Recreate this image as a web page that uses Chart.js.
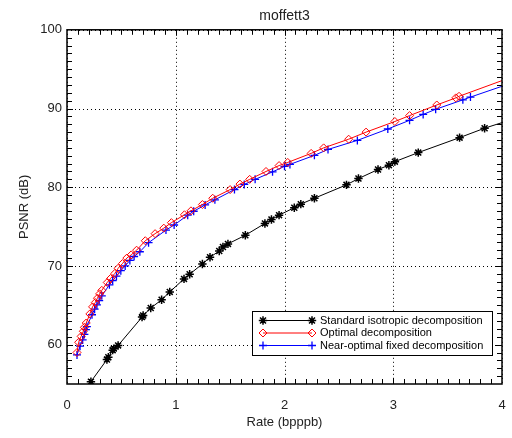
<!DOCTYPE html>
<html>
<head>
<meta charset="utf-8">
<script src="https://cdn.jsdelivr.net/npm/chart.js@4.4.1/dist/chart.umd.min.js"></script>
<style>
  html, body { margin: 0; padding: 0; background: #fff; }
  #wrap { width: 512px; height: 438px; }
</style>
</head>
<body>
<div id="wrap"><canvas id="psnrChart" width="512" height="438"></canvas></div>
<script>
const FONT = '"Liberation Sans", Arial, sans-serif';

// rate (bpppb) / PSNR (dB)
const stdRate = [0.22, 0.367, 0.38, 0.42, 0.43, 0.47, 0.69, 0.70, 0.77, 0.87, 0.945, 1.076, 1.128, 1.245, 1.315, 1.40,
    1.434, 1.48, 1.64, 1.82, 1.88, 1.95, 2.09, 2.15, 2.275, 2.57, 2.68, 2.86, 2.96, 3.015, 3.23, 3.61, 3.84, 4.1];
const stdPsnr = [55.3, 58.1, 58.4, 59.3, 59.5, 59.9, 63.5, 63.7, 64.65, 65.7, 66.7, 68.35, 68.95, 70.25, 71.1, 71.9,
    72.4, 72.8, 73.9, 75.4, 75.9, 76.45, 77.4, 77.85, 78.6, 80.3, 81.1, 82.25, 82.8, 83.25, 84.4, 86.3, 87.5, 88.65];

const optRate = [0.092, 0.107, 0.13, 0.15, 0.16, 0.177, 0.21, 0.235, 0.26, 0.28, 0.30, 0.32, 0.37, 0.40, 0.44, 0.47,
    0.51, 0.55, 0.59, 0.64, 0.72, 0.81, 0.89, 0.96, 1.08, 1.14, 1.245, 1.34, 1.50, 1.59, 1.68, 1.83, 1.95, 2.03,
    2.245, 2.36, 2.59, 2.75, 3.015, 3.15, 3.40, 3.575, 3.605, 4.1];
const optPsnr = [59.0, 60.3, 61.05, 61.7, 62.2, 62.75, 63.9, 64.8, 65.35, 65.9, 66.45, 66.9, 67.9, 68.4, 69.05, 69.7,
    70.3, 71.0, 71.4, 72.0, 73.2, 74.1, 74.8, 75.5, 76.5, 77.0, 77.8, 78.6, 79.7, 80.4, 81.0, 82.0, 82.75, 83.15,
    84.3, 85.0, 86.1, 87.0, 88.35, 89.1, 90.45, 91.35, 91.55, 94.05];

const nearRate = [0.092, 0.12, 0.144, 0.16, 0.174, 0.183, 0.23, 0.254, 0.275, 0.296, 0.32, 0.39, 0.42, 0.455, 0.495,
    0.535, 0.578, 0.617, 0.67, 0.75, 0.91, 0.985, 1.11, 1.165, 1.27, 1.36, 1.54, 1.63, 1.73, 1.89, 2.0, 2.05,
    2.275, 2.40, 2.67, 2.95, 3.15, 3.275, 3.39, 3.64, 3.71, 4.1];
const nearPsnr = [58.7, 59.8, 60.6, 61.3, 61.9, 62.3, 63.8, 64.5, 65.05, 65.6, 66.2, 67.6, 68.15, 68.7, 69.4,
    70.0, 70.7, 71.2, 71.8, 72.95, 74.55, 75.2, 76.45, 76.95, 77.75, 78.4, 79.7, 80.35, 81.0, 81.95, 82.65, 82.9,
    84.05, 84.8, 85.95, 87.4, 88.5, 89.25, 89.9, 91.1, 91.45, 93.3];

const xTicks = [0, 1, 2, 3, 4];
const yTicks = [60, 70, 80, 90, 100];

const seriesNames = ['Standard isotropic decomposition', 'Optimal decomposition', 'Near-optimal fixed decomposition'];

function toPoints(xs, ys) {
    return xs.map((x, i) => ({ x: x, y: ys[i] }));
}

// dotted grid under the data
const gridPlugin = {
    id: 'dotGrid',
    beforeDatasetsDraw(chart) {
        const { ctx, chartArea: a, scales } = chart;
        ctx.save();
        ctx.strokeStyle = '#000';
        ctx.lineWidth = 1;
        ctx.setLineDash([1, 3]);
        ctx.beginPath();
        xTicks.forEach(v => {
            const px = Math.round(scales.x.getPixelForValue(v)) + 0.5;
            ctx.moveTo(px, a.top); ctx.lineTo(px, a.bottom);
        });
        yTicks.forEach(v => {
            const py = Math.round(scales.y.getPixelForValue(v)) + 0.5;
            ctx.moveTo(a.left, py); ctx.lineTo(a.right, py);
        });
        ctx.stroke();
        ctx.restore();
    }
};

// frame + inward tick marks on all four sides, then the legend box
const framePlugin = {
    id: 'frame',
    afterDraw(chart) {
        const { ctx, chartArea: a, scales } = chart;
        const xs = scales.x, ys = scales.y;
        ctx.save();
        ctx.strokeStyle = '#000';
        ctx.lineWidth = 1;
        ctx.beginPath();
        for (let v = 56; v < 100; v++) {
            const len = v % 10 === 0 ? 6 : 5;
            const py = Math.round(ys.getPixelForValue(v)) + 0.5;
            ctx.moveTo(a.left, py); ctx.lineTo(a.left + len, py);
            ctx.moveTo(a.right, py); ctx.lineTo(a.right - len, py);
        }
        for (let i = 1; i < 40; i++) {
            const v = i / 10;
            const len = i % 10 === 0 ? 6 : 5;
            const px = Math.round(xs.getPixelForValue(v)) + 0.5;
            ctx.moveTo(px, a.bottom); ctx.lineTo(px, a.bottom - len);
            ctx.moveTo(px, a.top); ctx.lineTo(px, a.top + len);
        }
        ctx.stroke();
        ctx.lineWidth = 1.5;
        ctx.strokeRect(a.left, a.top, a.right - a.left, a.bottom - a.top);

        // legend
        const lx = 252, ly = 311, lw = 240, lh = 44;
        ctx.fillStyle = '#fff';
        ctx.fillRect(lx, ly, lw, lh);
        ctx.lineWidth = 1;
        ctx.strokeStyle = '#000';
        ctx.strokeRect(lx + 0.5, ly + 0.5, lw, lh);
        ctx.font = '11px ' + FONT;
        ctx.textBaseline = 'middle';
        chart.data.datasets.forEach((ds, i) => {
            const y = ly + 9.5 + i * 12.5;
            ctx.strokeStyle = ds.borderColor;
            ctx.lineWidth = 1;
            ctx.beginPath();
            ctx.moveTo(263, y); ctx.lineTo(312, y);
            ctx.stroke();
            [263, 312].forEach(px => {
                ctx.strokeStyle = ds.pointBorderColor;
                ctx.fillStyle = ds.pointBackgroundColor;
                ctx.lineWidth = ds.pointBorderWidth;
                Chart.helpers.drawPoint(ctx, { pointStyle: ds.pointStyle, radius: ds.pointRadius, rotation: 0, borderWidth: ds.pointBorderWidth }, px, y);
            });
            ctx.fillStyle = '#000';
            ctx.fillText(ds.label, 320, y);
        });
        ctx.restore();
    }
};

const ctx = document.getElementById('psnrChart').getContext('2d');
new Chart(ctx, {
    type: 'line',
    data: {
        datasets: [
            {
                label: seriesNames[0],
                data: toPoints(stdRate, stdPsnr),
                borderColor: '#000',
                borderWidth: 1,
                pointStyle: 'star',
                pointRadius: 4.2,
                pointBorderColor: '#000',
                pointBackgroundColor: '#000',
                pointBorderWidth: 1.5
            },
            {
                label: seriesNames[1],
                data: toPoints(optRate, optPsnr),
                borderColor: '#ff0000',
                borderWidth: 1,
                pointStyle: 'rectRot',
                pointRadius: 4,
                pointBorderColor: '#ff0000',
                pointBackgroundColor: 'rgba(0,0,0,0)',
                pointBorderWidth: 1
            },
            {
                label: seriesNames[2],
                data: toPoints(nearRate, nearPsnr),
                borderColor: '#0000ff',
                borderWidth: 1,
                pointStyle: 'cross',
                pointRadius: 4,
                pointBorderColor: '#0000ff',
                pointBackgroundColor: '#0000ff',
                pointBorderWidth: 1.3
            }
        ]
    },
    options: {
        responsive: false,
        animation: false,
        layout: { padding: { left: 0, right: 10, top: 0, bottom: 0 } },
        datasets: { line: { clip: 0, tension: 0 } },
        plugins: {
            legend: { display: false },
            tooltip: { enabled: false },
            title: {
                display: true,
                fullSize: false,
                text: 'moffett3',
                color: '#222',
                font: { family: FONT, size: 14, weight: 'normal' },
                padding: { top: 8, bottom: 5 }
            }
        },
        scales: {
            x: {
                type: 'linear',
                min: 0,
                max: 4,
                afterBuildTicks: s => { s.ticks = xTicks.map(v => ({ value: v })); },
                afterFit: s => { s.height = 54; s.paddingLeft = 0; s.paddingRight = 0; },
                ticks: { color: '#222', font: { family: FONT, size: 13 }, padding: 14, maxRotation: 0 },
                grid: { display: false, drawTicks: false },
                border: { display: false },
                title: { display: true, text: 'Rate (bpppb)', color: '#222', font: { family: FONT, size: 13 }, padding: { top: 0, bottom: 8 } }
            },
            y: {
                type: 'linear',
                min: 55,
                max: 100,
                afterBuildTicks: s => { s.ticks = yTicks.map(v => ({ value: v })); },
                afterFit: s => { s.width = 67; s.paddingTop = 0; s.paddingBottom = 0; },
                ticks: { color: '#222', font: { family: FONT, size: 13 }, padding: 5 },
                grid: { display: false, drawTicks: false },
                border: { display: false },
                title: { display: true, text: 'PSNR (dB)', color: '#222', font: { family: FONT, size: 13 }, padding: { top: 17, bottom: 0 } }
            }
        }
    },
    plugins: [gridPlugin, framePlugin]
});
</script>
</body>
</html>
